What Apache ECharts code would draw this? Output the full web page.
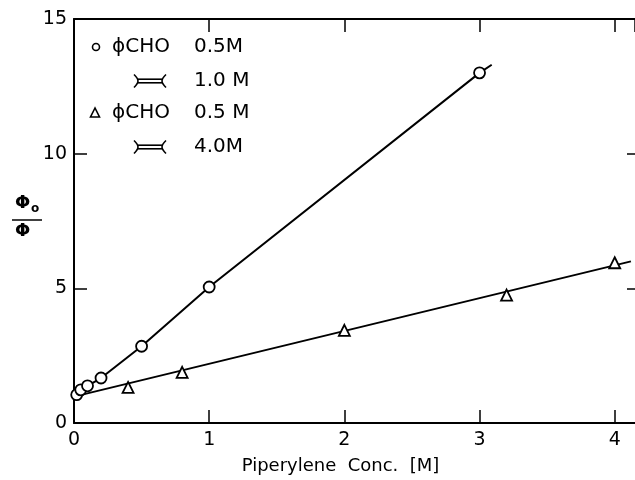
<!DOCTYPE html>
<html>
<head>
<meta charset="utf-8">
<script src="https://cdn.jsdelivr.net/npm/echarts@6/dist/echarts.min.js"></script>
<style>html,body{margin:0;padding:0;background:#fff;overflow:hidden}#c{width:635px;height:480px}</style>
</head>
<body>
<div id="c"></div>
<script>
// Data
var circleX = [0.02, 0.05, 0.1, 0.2, 0.5, 1.0, 3.0];
var circleY = [1.05, 1.23, 1.38, 1.67, 2.85, 5.05, 13.0];
var circleLineX = [0.0, 0.05, 0.1, 0.2, 0.5, 1.0, 3.0, 3.09];
var circleLineY = [1.0, 1.23, 1.38, 1.67, 2.85, 5.05, 13.0, 13.3];
var triX = [0.4, 0.8, 2.0, 3.2, 4.0];
var triY = [1.32, 1.88, 3.44, 4.75, 5.95];
var triLineX = [0.0, 4.12];
var triLineY = [0.98, 6.0];
var xTicks = [0, 1, 2, 3, 4];
var yTicks = [0, 5, 10, 15];
var xName = 'Piperylene  Conc.  [M]';
var legendRows = [
  ['ϕCHO', '0.5M'],
  ['', '1.0 M'],
  ['ϕCHO', '0.5 M'],
  ['', '4.0M']
];

function pairs(xs, ys) { return xs.map(function (x, i) { return [x, ys[i]]; }); }

var FONT = 'DejaVu Sans';
var chart = echarts.init(document.getElementById('c'), null, {renderer: 'canvas'});

function flare(cx, cy) {
  var s = {stroke: '#000', lineWidth: 1.6, fill: null};
  return [
    {type: 'line', shape: {x1: cx - 12, y1: cy - 1.8, x2: cx + 12, y2: cy - 1.8}, style: s},
    {type: 'line', shape: {x1: cx - 12, y1: cy + 1.8, x2: cx + 12, y2: cy + 1.8}, style: s},
    {type: 'polyline', shape: {points: [[cx - 16, cy - 6.5], [cx - 12, cy], [cx - 16, cy + 6.5]], smooth: 0.4}, style: s},
    {type: 'polyline', shape: {points: [[cx + 16, cy - 6.5], [cx + 12, cy], [cx + 16, cy + 6.5]], smooth: 0.4}, style: s}
  ];
}

var rowY = [47, 81, 113, 147];
var graphics = [];
legendRows.forEach(function (r, i) {
  if (r[0]) graphics.push({type: 'text', x: 112, y: rowY[i], style: {text: r[0], font: '20px "' + FONT + '"', fill: '#000', verticalAlign: 'middle'}});
  graphics.push({type: 'text', x: 194, y: rowY[i], style: {text: r[1], font: '20px "' + FONT + '"', fill: '#000', verticalAlign: 'middle'}});
});
graphics.push({type: 'circle', shape: {cx: 96, cy: 47, r: 3.5}, style: {stroke: '#000', lineWidth: 1.6, fill: '#fff'}});
graphics.push({type: 'polygon', shape: {points: [[95, 108], [90.5, 117], [99.5, 117]]}, style: {stroke: '#000', lineWidth: 1.6, fill: '#fff'}});
graphics = graphics.concat(flare(150, 81), flare(150, 147));
// y-axis title: fraction Φo / Φ
graphics.push({type: 'text', x: 15, y: 203, style: {text: 'Φ', font: 'bold 18px "' + FONT + '"', fill: '#000', verticalAlign: 'middle'}});
graphics.push({type: 'text', x: 31, y: 209, style: {text: 'o', font: 'bold 12px "' + FONT + '"', fill: '#000', verticalAlign: 'middle'}});
graphics.push({type: 'line', shape: {x1: 12, y1: 220, x2: 42, y2: 220}, style: {stroke: '#000', lineWidth: 1.5}});
graphics.push({type: 'text', x: 15, y: 231, style: {text: 'Φ', font: 'bold 18px "' + FONT + '"', fill: '#000', verticalAlign: 'middle'}});

var axisLine = {show: true, onZero: false, lineStyle: {color: '#000', width: 2}};
var tickIn = {show: true, inside: true, length: 13, lineStyle: {color: '#000', width: 1.5}};
var labelStyle = {color: '#000', fontFamily: FONT, fontSize: 19};

chart.setOption({
  animation: false,
  backgroundColor: '#fff',
  grid: {left: 74, right: 0, top: 19, bottom: 55.5, containLabel: false},
  xAxis: [{
    type: 'value', min: 0, max: 4.15, interval: 1, position: 'bottom',
    axisLine: axisLine, axisTick: tickIn, splitLine: {show: false},
    axisLabel: Object.assign({margin: 8, showMaxLabel: false, formatter: function (v) { return xTicks.indexOf(v) >= 0 ? String(v) : ''; }}, labelStyle),
    name: xName, nameLocation: 'middle', nameGap: 34,
    nameTextStyle: {color: '#000', fontFamily: FONT, fontSize: 18, padding: [0, 28, 0, 0]}
  }, {
    type: 'value', min: 0, max: 4.15, interval: 1, position: 'top',
    axisLine: axisLine, axisTick: tickIn, splitLine: {show: false}, axisLabel: {show: false}
  }],
  yAxis: [{
    type: 'value', min: 0, max: 15, interval: 5, position: 'left',
    axisLine: axisLine, axisTick: tickIn, splitLine: {show: false},
    axisLabel: Object.assign({margin: 7, formatter: function (v) { return yTicks.indexOf(v) >= 0 ? String(v) : ''; }}, labelStyle)
  }, {
    type: 'value', min: 0, max: 15, interval: 5, position: 'right',
    axisLine: {show: false, onZero: false}, axisTick: {show: true, inside: true, length: 8, lineStyle: {color: '#000', width: 1.5}},
    splitLine: {show: false}, axisLabel: {show: false}
  }],
  graphic: graphics,
  series: [
    {type: 'line', data: pairs(circleLineX, circleLineY), showSymbol: false, symbol: 'none', lineStyle: {color: '#000', width: 2}, z: 2},
    {type: 'line', data: pairs(triLineX, triLineY), showSymbol: false, symbol: 'none', lineStyle: {color: '#000', width: 2}, z: 2},
    {type: 'scatter', data: pairs(circleX, circleY), symbol: 'circle', symbolSize: 11, clip: false,
      itemStyle: {color: '#fff', borderColor: '#000', borderWidth: 1.8, opacity: 1}, z: 3},
    {type: 'scatter', data: pairs(triX, triY), symbol: 'triangle', symbolSize: 11, clip: false,
      itemStyle: {color: '#fff', borderColor: '#000', borderWidth: 1.8, opacity: 1}, z: 3}
  ]
});
</script>
</body>
</html>
